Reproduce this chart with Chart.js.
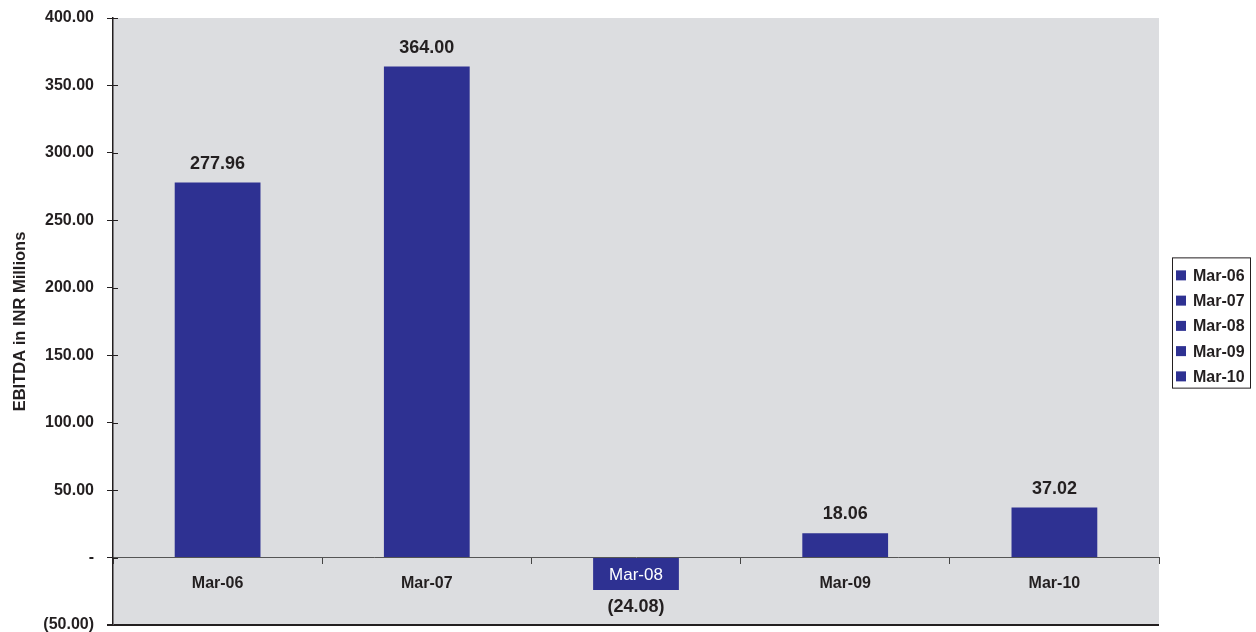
<!DOCTYPE html>
<html lang="en">
<head>
    <meta charset="UTF-8">
    <script src="https://cdn.jsdelivr.net/npm/chart.js"></script>
    <title>EBITDA</title>
    <style>
        body {
            margin: 0;
            padding: 0;
            background-color: #fff;
        }

        .chart-box {
            width: 1256px;
            height: 632px;
            position: relative;
        }
    </style>
</head>
<body>
    <div class="chart-box">
        <canvas id="ebitdaChart"></canvas>
    </div>

    <script>
        // valores
        const periods = ['Mar-06', 'Mar-07', 'Mar-08', 'Mar-09', 'Mar-10'];
        const ebitda = [277.96, 364.00, -24.08, 18.06, 37.02];
        const yTicks = [-50, 0, 50, 100, 150, 200, 250, 300, 350, 400];

        const barColor = '#2e3192';
        const textColor = '#231f20';
        const fontFamily = '"Liberation Sans", Arial, Helvetica, sans-serif';

        function fmt(v) {
            if (v === 0) return '-';
            const s = Math.abs(v).toFixed(2);
            return v < 0 ? '(' + s + ')' : s;
        }

        // fundo cinza da área do gráfico
        const plotBackground = {
            id: 'plotBackground',
            beforeDraw(chart) {
                const { ctx, chartArea } = chart;
                ctx.save();
                ctx.fillStyle = '#dcdde0';
                ctx.fillRect(chartArea.left, chartArea.top, chartArea.right - chartArea.left, chartArea.bottom - chartArea.top);
                ctx.restore();
            }
        };

        // rótulos de valor sobre as barras (e nome da categoria dentro da barra negativa)
        const valueLabels = {
            id: 'valueLabels',
            afterDatasetsDraw(chart) {
                const ctx = chart.ctx;
                const meta = chart.getDatasetMeta(0);
                ctx.save();
                ctx.textAlign = 'center';
                ctx.textBaseline = 'middle';
                meta.data.forEach((bar, i) => {
                    const v = ebitda[i];
                    ctx.font = 'bold 18px ' + fontFamily;
                    ctx.fillStyle = textColor;
                    const y = v >= 0 ? bar.y - 19 : bar.y + 17;
                    ctx.fillText(fmt(v), bar.x, y);
                    if (v < 0) {
                        ctx.font = '17px ' + fontFamily;
                        ctx.fillStyle = '#ffffff';
                        ctx.fillText(periods[i], bar.x, (bar.y + bar.base) / 2 + 1);
                    }
                });

                // traços curtos do eixo y para dentro da área
                const ys = chart.scales.y;
                ctx.strokeStyle = textColor;
                ctx.lineWidth = 1;
                yTicks.forEach(t => {
                    const py = Math.round(ys.getPixelForValue(t)) + 0.5;
                    ctx.beginPath();
                    ctx.moveTo(ys.right, py);
                    ctx.lineTo(ys.right + 5, py);
                    ctx.stroke();
                });
                ctx.restore();
            }
        };

        // legenda com moldura, à direita da área do gráfico
        const boxLegend = {
            id: 'boxLegend',
            afterDraw(chart) {
                const { ctx, chartArea } = chart;
                const left = chartArea.right + 13;
                const w = 78;
                const rowH = 25.25;
                const h = periods.length * rowH + 4;
                const top = (chartArea.top + chartArea.bottom) / 2 - h / 2 + 1;
                ctx.save();
                ctx.strokeStyle = textColor;
                ctx.lineWidth = 1;
                ctx.strokeRect(left + 0.5, top + 0.5, w, h);
                ctx.font = 'bold 16px ' + fontFamily;
                ctx.textAlign = 'left';
                ctx.textBaseline = 'middle';
                periods.forEach((p, i) => {
                    const cy = top + 18 + i * rowH;
                    ctx.fillStyle = barColor;
                    ctx.fillRect(left + 4, cy - 5, 10, 10);
                    ctx.fillStyle = textColor;
                    ctx.fillText(p, left + 21, cy + 1);
                });
                ctx.restore();
            }
        };

        const ctx = document.getElementById('ebitdaChart').getContext('2d');
        const ebitdaChart = new Chart(ctx, {
            type: 'bar',
            data: {
                labels: periods,
                datasets: [{
                    label: 'EBITDA',
                    data: ebitda,
                    backgroundColor: barColor,
                    borderWidth: 0,
                    barPercentage: 0.41,
                    categoryPercentage: 1
                }]
            },
            options: {
                responsive: true,
                maintainAspectRatio: false,
                animation: false,
                layout: {
                    padding: { top: 18, bottom: 7, left: 0, right: 97 }
                },
                plugins: {
                    tooltip: { enabled: false },
                    legend: { display: false }
                },
                scales: {
                    x: {
                        position: { y: 0 },
                        offset: true,
                        afterFit: scale => {
                            scale.height = 0;
                            scale.paddingLeft = 0;
                            scale.paddingRight = 0;
                        },
                        border: { color: '#555', width: 1 },
                        grid: {
                            offset: true,
                            drawOnChartArea: false,
                            tickLength: 6,
                            color: '#444'
                        },
                        ticks: {
                            padding: 10,
                            // Mar-08 fica dentro da barra negativa, desenhado pelo plugin
                            color: c => ebitda[c.index] < 0 ? 'rgba(0,0,0,0)' : textColor,
                            font: { family: fontFamily, size: 16, weight: 'bold' }
                        }
                    },
                    y: {
                        min: -50,
                        max: 400,
                        afterBuildTicks: scale => {
                            scale.ticks = yTicks.map(v => ({ value: v }));
                        },
                        afterFit: scale => {
                            scale.width = 113;
                            scale.paddingTop = 0;
                            scale.paddingBottom = 0;
                        },
                        border: { color: '#231f20', width: 1.5 },
                        grid: {
                            color: c => c.tick && c.tick.value === -50 ? '#231f20' : 'rgba(0,0,0,0)',
                            lineWidth: c => c.tick && c.tick.value === -50 ? 2 : 1,
                            tickColor: '#231f20',
                            tickLength: 6
                        },
                        ticks: {
                            padding: 13,
                            color: textColor,
                            font: { family: fontFamily, size: 16, weight: 'bold' },
                            callback: v => fmt(v)
                        },
                        title: {
                            display: true,
                            text: 'EBITDA in INR Millions',
                            color: textColor,
                            padding: { top: 11, bottom: 0 },
                            font: { family: fontFamily, size: 16.5, weight: 'bold' }
                        }
                    }
                }
            },
            plugins: [plotBackground, valueLabels, boxLegend]
        });
    </script>
</body>
</html>
